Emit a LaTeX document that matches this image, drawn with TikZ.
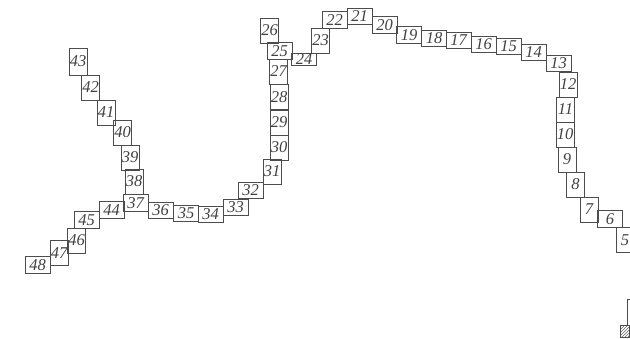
\documentclass[tikz,border=0pt]{standalone}
\usepackage{fontspec}
\setmainfont{Liberation Serif}
\usetikzlibrary{patterns}
\tikzset{
  cell/.style={draw=black!70,line width=0.85pt,inner sep=0pt,text=black!75,font=\fontsize{16.5}{16.5}\selectfont\itshape},
  vcell/.style={cell,minimum width=18pt,minimum height=25pt},
  hcell/.style={cell,minimum width=25pt,minimum height=16.5pt}
}
\begin{document}
\begin{tikzpicture}[x=1pt,y=-1pt]
  \useasboundingbox (0,0) rectangle (630,338);
  \foreach \n/\x/\y in {5/625/240,7/589/209.5,8/575.5/184.5,9/567/159.5,10/565/134.5,11/565.5/109.5,12/568/84.5,
      23/320.5/40.5,26/269.5/30.5,27/278.5/71.5,28/279/97,29/279/122.5,30/279/147.5,31/272/171.5,
      38/134/181.5,39/130/157.5,40/122.5/132.5,41/106/112.5,42/90.5/87.5,46/76.5/240.5,47/59/253}
    \node[vcell] (b\n) at (\x,\y) {\n};
  \node[vcell,minimum height=27pt] (b43) at (78,61.5) {43};
  \foreach \n/\x/\y in {6/610/219,13/558.5/63.5,14/533.5/52.5,15/508.5/46.5,16/483.5/44.5,17/458.5/40.5,
      18/434/38.5,19/409/35,20/384.5/25,21/359.5/16.5,22/334.5/20,25/279.5/51,
      32/250.5/190.5,33/235.5/207.5,34/210.5/214.5,35/186/213.5,36/160.5/210.5,37/135.5/203,
      44/111.5/210,45/86.5/220,48/37.5/265}
    \node[hcell] (b\n) at (\x,\y) {\n};
  \node[hcell,minimum height=12pt] (b24) at (304,59) {24};
  \draw[black!70,line width=0.85pt] (627,299) rectangle (645,325);
  \draw[black!70,line width=0.6pt,pattern=north east lines,pattern color=black!60] (620,325) rectangle (629,337);
\end{tikzpicture}
\end{document}
